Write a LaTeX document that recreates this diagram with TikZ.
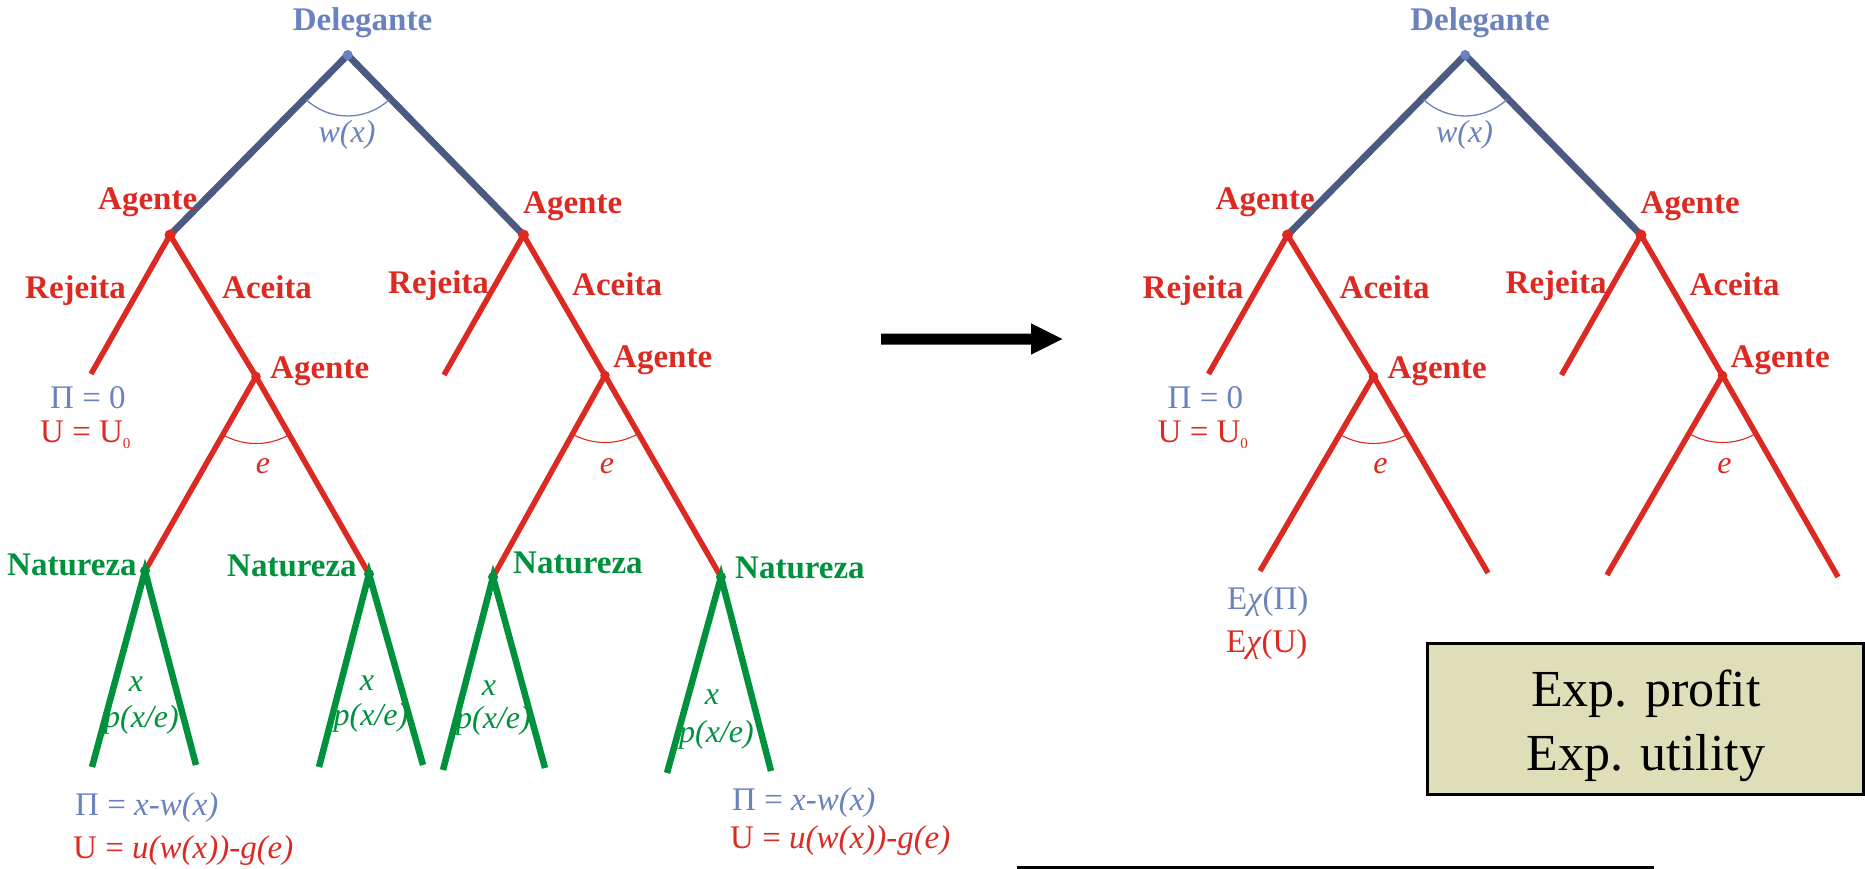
\documentclass[tikz,border=0pt]{standalone}
\usepackage{fontspec}
\usetikzlibrary{calc}
\setmainfont{Liberation Serif}
\definecolor{dblue}{HTML}{4A5A80}
\definecolor{lblue}{HTML}{6A82BE}
\definecolor{tred}{HTML}{DC2A22}
\definecolor{tgreen}{HTML}{00913D}
\definecolor{boxfill}{HTML}{DEDFB8}
\tikzset{
  bline/.style={draw=dblue,line width=6.8pt},
  rline/.style={draw=tred,line width=5.5pt},
  gline/.style={draw=tgreen,line width=6.5pt},
  bthin/.style={draw=lblue,line width=1.3pt},
  rthin/.style={draw=tred,line width=1.1pt},
  lbl/.style={inner sep=0pt,font=\fontsize{33}{38}\selectfont},
  blbl/.style={inner sep=0pt,font=\fontsize{33}{38}\selectfont\bfseries},
  ilbl/.style={inner sep=0pt,font=\fontsize{32}{38}\selectfont\itshape},
  bigtxt/.style={inner sep=0pt,font=\fontsize{52}{60}\selectfont},
}
\newcommand\subzero{\raisebox{-6pt}{\fontsize{15}{15}\selectfont 0}}
\newcommand\treetop[1]{%
  \coordinate (#1R) at (347.7,55);
  \coordinate (#1A1) at (170,235);
  \coordinate (#1A2) at (523.5,235);
  \coordinate (#1J1) at (91,374);
  \coordinate (#1A3) at (256,376.5);
  \coordinate (#1J2) at (444,375);
  \coordinate (#1A4) at (605,375.5);
  \draw[bline] (#1A1) -- (#1R) -- (#1A2);
  \draw[rline] (#1J1) -- (#1A1) -- (#1A3);
  \draw[rline] (#1J2) -- (#1A2) -- (#1A4);
  \draw[bthin] (#1R) ++(-133:61pt) arc[start angle=-133,end angle=-47,radius=61pt];
  \draw[rthin] (#1A3) ++(-120:67pt) arc[start angle=-120,end angle=-60,radius=67pt];
  \draw[rthin] (#1A4) ++(-120:67pt) arc[start angle=-120,end angle=-60,radius=67pt];
  \node[blbl,text=lblue,anchor=base] (#1del) at (362.5,31) {Delegante};
  \node[ilbl,text=lblue,anchor=base] (#1wx) at (347,143) {w(x)};
  \node[blbl,text=tred,anchor=base west] (#1agA) at (98,210) {Agente};
  \node[blbl,text=tred,anchor=base west] (#1agB) at (523,213) {Agente};
  \node[blbl,text=tred,anchor=base west] (#1agC) at (270,378) {Agente};
  \node[blbl,text=tred,anchor=base west] (#1agD) at (613,367) {Agente};
  \node[blbl,text=tred,anchor=base west] (#1rejA) at (25,298) {Rejeita};
  \node[blbl,text=tred,anchor=base west] (#1aceA) at (222,298) {Aceita};
  \node[blbl,text=tred,anchor=base west] (#1rejB) at (388,293) {Rejeita};
  \node[blbl,text=tred,anchor=base west] (#1aceB) at (572,295) {Aceita};
  \node[lbl,text=lblue,anchor=base west] (#1pz) at (50,408) {Π = 0};
  \node[lbl,text=tred,anchor=base west] (#1uz) at (40,442) {U = U\subzero};
  \node[ilbl,text=tred,anchor=base] (#1eA) at (263,473) {e};
  \node[ilbl,text=tred,anchor=base] (#1eB) at (607,473) {e};
}
\newcommand\topdots[1]{%
  \fill[lblue] (#1R) circle (5pt);
  \fill[tred] (#1A1) circle (5.5pt);
  \fill[tred] (#1A2) circle (5.5pt);
  \fill[tred] (#1A3) circle (4.8pt);
  \fill[tred] (#1A4) circle (4.8pt);
}
\begin{document}
\begin{tikzpicture}[x=1pt,y=-1pt]
\useasboundingbox (0,0) rectangle (1865,869);
% ---------------- left tree ----------------
\treetop{l}
\coordinate (lN1) at (145,571);
\coordinate (lN2) at (369,574);
\coordinate (lN3) at (493,577);
\coordinate (lN4) at (721,577);
\coordinate (g1a) at (92,767);  \coordinate (g1b) at (196,765);
\coordinate (g2a) at (319,767); \coordinate (g2b) at (423,765);
\coordinate (g3a) at (443,770); \coordinate (g3b) at (545,768);
\coordinate (g4a) at (667,773); \coordinate (g4b) at (771,771);
\draw[rline] (lN1) -- (lA3) -- (lN2);
\draw[rline] (lN3) -- (lA4) -- (lN4);
\draw[gline] (g1a) -- (lN1) -- (g1b);
\draw[gline] (g2a) -- (lN2) -- (g2b);
\draw[gline] (g3a) -- (lN3) -- (g3b);
\draw[gline] (g4a) -- (lN4) -- (g4b);
\topdots{l}
\foreach \n in {lN1,lN2,lN3,lN4} \fill[tgreen] (\n) circle (5pt);
\node[blbl,text=tgreen,anchor=base west] (nat1) at (7,575) {Natureza};
\node[blbl,text=tgreen,anchor=base west] (nat2) at (227,576) {Natureza};
\node[blbl,text=tgreen,anchor=base west] (nat3) at (513,573) {Natureza};
\node[blbl,text=tgreen,anchor=base west] (nat4) at (735,578) {Natureza};
\node[ilbl,text=tgreen,anchor=base] (x1) at (136,691) {x};
\node[ilbl,text=tgreen,anchor=base] (x2) at (367,690) {x};
\node[ilbl,text=tgreen,anchor=base] (x3) at (489,695) {x};
\node[ilbl,text=tgreen,anchor=base] (x4) at (712,704) {x};
\node[ilbl,text=tgreen,anchor=base] (p1) at (141.5,727) {p(x/e)};
\node[ilbl,text=tgreen,anchor=base] (p2) at (371,725) {p(x/e)};
\node[ilbl,text=tgreen,anchor=base] (p3) at (493.5,728) {p(x/e)};
\node[ilbl,text=tgreen,anchor=base] (p4) at (716.5,742) {p(x/e)};
\node[lbl,text=lblue,anchor=base west] (payPa) at (75,815) {Π = \textit{x-w(x)}};
\node[lbl,text=tred,anchor=base west] (payUa) at (73,858) {U = \textit{u(w(x))-g(e)}};
\node[lbl,text=lblue,anchor=base west] (payPb) at (732,810) {Π = \textit{x-w(x)}};
\node[lbl,text=tred,anchor=base west] (payUb) at (730,848) {U = \textit{u(w(x))-g(e)}};
% ---------------- arrow ----------------
\coordinate (arS) at (881,339);
\coordinate (arT) at (1062.3,339);
\fill[black] (881,333.5) -- (1031,333.5) -- (1031,323.3) -- (arT) -- (1031,354.7) -- (1031,344.5) -- (881,344.5) -- cycle;
% ---------------- right tree ----------------
\begin{scope}[xshift=1117.5pt]
\treetop{r}
\end{scope}
\coordinate (e1) at (1260,571);
\coordinate (e2) at (1488,573);
\coordinate (e3) at (1607,575);
\coordinate (e4) at (1838,577);
\draw[rline] (e1) -- (rA3) -- (e2);
\draw[rline] (e3) -- (rA4) -- (e4);
\topdots{r}
\node[lbl,text=lblue,anchor=base west] (exP) at (1227,609) {E\textit{χ}(Π)};
\node[lbl,text=tred,anchor=base west] (exU) at (1226,652) {E\textit{χ}(U)};
% ---------------- box ----------------
\node[draw=black,line width=3pt,fill=boxfill,anchor=north west,minimum width=436.5pt,minimum height=151pt,inner sep=0pt] (box) at (1425.5,641.5) {};
\node[bigtxt,anchor=base] (bt1) at (1646,706.7) {Exp. profit};
\node[bigtxt,anchor=base] (bt2) at (1646,770) {Exp. utility};
% ---------------- bottom rule ----------------
\coordinate (bl1) at (1017,867.6);
\coordinate (bl2) at (1654,867.6);
\draw[line width=2.5pt] (bl1) -- (bl2);
\end{tikzpicture}
\end{document}
